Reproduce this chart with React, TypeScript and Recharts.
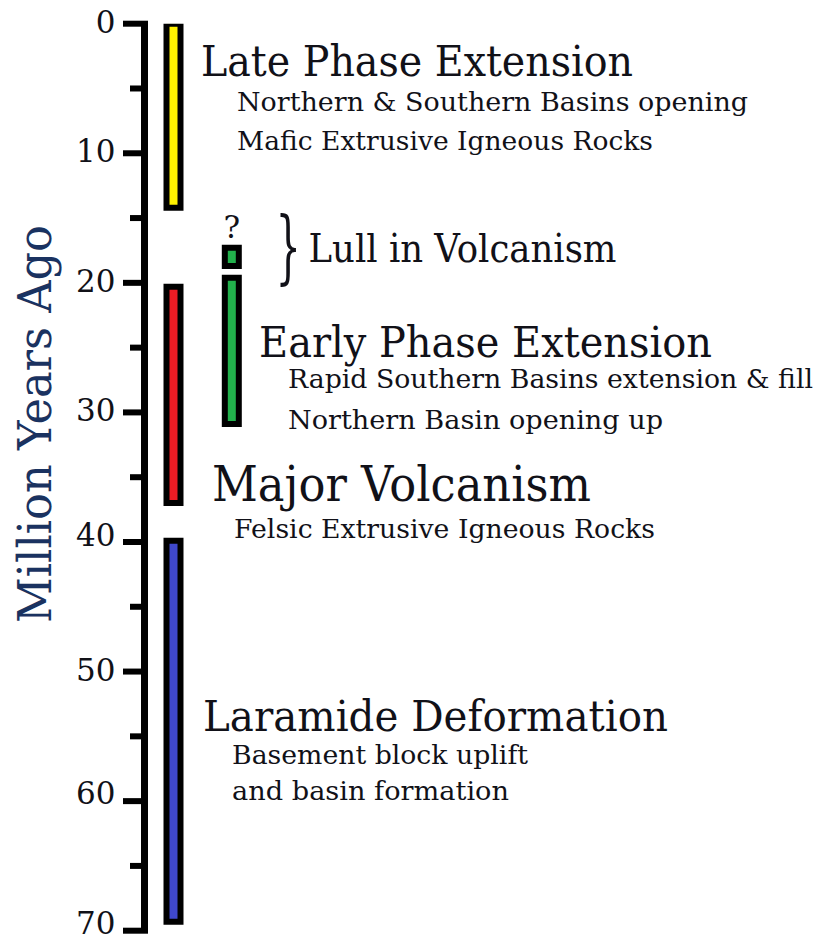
import { ComposedChart, Bar, Cell, XAxis, YAxis, ReferenceLine } from "recharts"

// ages are in million years ago (0 = present, top of the column)
const ageTicks = [0, 5, 10, 15, 20, 25, 30, 35, 40, 45, 50, 55, 60, 65, 70]
const majorTicks = [0, 10, 20, 30, 40, 50, 60, 70]

// coloured activity bars: lane 1 = main column, lane 2 = early-phase volcanics
const spanNames = ["Late Phase Extension", "Early pulse", "Early Phase Extension", "Major Volcanism", "Laramide Deformation"]
const spanLane = [1, 2, 2, 1, 1]
const spanStart = [0, 17.3, 19.6, 20.3, 39.9]
const spanEnd = [14.2, 18.7, 30.9, 37.0, 69.3]
const spanUncertain = [false, true, false, false, false]

// text annotations, anchored on an age
const eventTitles = ["Late Phase Extension", "Lull in Volcanism", "Early Phase Extension", "Major Volcanism", "Laramide Deformation"]
const eventAge = [4.0, 18.4, 25.7, 36.8, 54.6]
const eventNotes = [
  ["Northern & Southern Basins opening", "Mafic Extrusive Igneous Rocks"],
  [],
  ["Rapid Southern Basins extension & fill", "Northern Basin opening up"],
  ["Felsic Extrusive Igneous Rocks"],
  ["Basement block uplift", "and basin formation"],
]

const spanColors = ["#FFF200", "#22B14C", "#22B14C", "#ED1C24", "#3F48CC"]

const FONT = "'DejaVu Serif', serif"
const INK = "#111118"

// the hand-placed tick numbers sit a little higher on some ticks
const tickLabelLift: Record<number, number> = { 40: 5, 60: 6, 70: 6 }

// per-annotation layout: offsets from the plot's left edge, text widths
const eventLayout = [
  { dx: 56.5, size: 42, width: 432, noteDx: 92.5, noteSize: 26, noteDy: [35, 74.5], noteW: [511, 416] },
  { dx: 164, size: 39, width: 308, noteDx: 0, noteSize: 26, noteDy: [], noteW: [] },
  { dx: 114.5, size: 42, width: 453, noteDx: 143.5, noteSize: 26, noteDy: [31.5, 72], noteW: [525, 375] },
  { dx: 67.5, size: 49, width: 379, noteDx: 89.5, noteSize: 26, noteDy: [37], noteW: [421] },
  { dx: 58.5, size: 42, width: 465, noteDx: 87.5, noteSize: 26, noteDy: [33, 69], noteW: [296, 277] },
]

const spans = spanNames.map((name, i) => ({
  name,
  lane: spanLane[i],
  span: [spanStart[i], spanEnd[i]],
}))

function AgeTick(props: any) {
  const { x, y, payload } = props
  const v = payload.value
  const major = majorTicks.includes(v)
  const len = major ? 21.5 : 14.5
  return (
    <g>
      <line x1={x - len} x2={x + 3.5} y1={y} y2={y} stroke="#000" strokeWidth={6} />
      {major && (
        <text
          x={x - 29}
          y={y}
          dy={9 - (tickLabelLift[v] || 0)}
          textAnchor="end"
          fontFamily={FONT}
          fontSize={31}
          fill={INK}
        >
          {v}
        </text>
      )}
    </g>
  )
}

function AxisTitle(props: any) {
  const vb = props.viewBox || { x: 0, y: 0 }
  const cx = vb.x + 51
  const cy = 424
  return (
    <text
      x={cx}
      y={cy}
      transform={`rotate(-90 ${cx} ${cy})`}
      textAnchor="middle"
      fontFamily={FONT}
      fontSize={47}
      fill="#1A3260"
      textLength={398}
      lengthAdjust="spacingAndGlyphs"
    >
      Million Years Ago
    </text>
  )
}

function QueryMark(props: any) {
  const vb = props.viewBox || props
  const i = props.index
  if (i == null || !spanUncertain[i]) return null
  const top = Math.min(vb.y, vb.y + vb.height)
  return (
    <text x={vb.x + vb.width / 2} y={top - 10} textAnchor="middle" fontFamily={FONT} fontSize={31} fill={INK}>
      ?
    </text>
  )
}

function EventText({ viewBox, index }: { viewBox: any; index: number }) {
  const { x, y } = viewBox
  const L = eventLayout[index]
  return (
    <g fontFamily={FONT} fill={INK}>
      {index === 1 && (
        <text transform={`translate(${x + 131} ${y + 12.3}) scale(1 2)`} fontSize={40}>
          {"}"}
        </text>
      )}
      <text x={x + L.dx} y={y} fontSize={L.size} textLength={L.width} lengthAdjust="spacingAndGlyphs">
        {eventTitles[index]}
      </text>
      {eventNotes[index].map((note, j) => (
        <text
          key={note}
          x={x + L.noteDx}
          y={y + L.noteDy[j]}
          fontSize={L.noteSize}
          textLength={L.noteW[j]}
          lengthAdjust="spacingAndGlyphs"
        >
          {note}
        </text>
      ))}
    </g>
  )
}

export default function App() {
  return (
    <div style={{ position: "absolute", left: 0, top: 0, background: "#fff" }}>
      <ComposedChart
        width={819}
        height={940}
        data={spans}
        margin={{ top: 23.7, right: 4, bottom: 9.3, left: 0 }}
      >
        <XAxis type="number" dataKey="lane" domain={[0.5, 12]} allowDataOverflow hide />
        <YAxis
          type="number"
          domain={[0, 70]}
          reversed
          allowDataOverflow
          ticks={ageTicks}
          interval={0}
          width={144.5}
          axisLine={{ stroke: "#000", strokeWidth: 7 }}
          tickLine={false}
          tickSize={0}
          tickMargin={0}
          tick={(p: any) => <AgeTick {...p} />}
          label={AxisTitle}
        />
        <Bar
          dataKey="span"
          barSize={14}
          stroke="#000"
          strokeWidth={6}
          isAnimationActive={false}
          label={QueryMark}
        >
          {spans.map((s, i) => (
            <Cell key={s.name} fill={spanColors[i]} />
          ))}
        </Bar>
        {eventTitles.map((t, i) => (
          <ReferenceLine
            key={t}
            y={eventAge[i]}
            stroke="none"
            label={(p: any) => <EventText viewBox={p.viewBox} index={i} />}
          />
        ))}
      </ComposedChart>
    </div>
  )
}
